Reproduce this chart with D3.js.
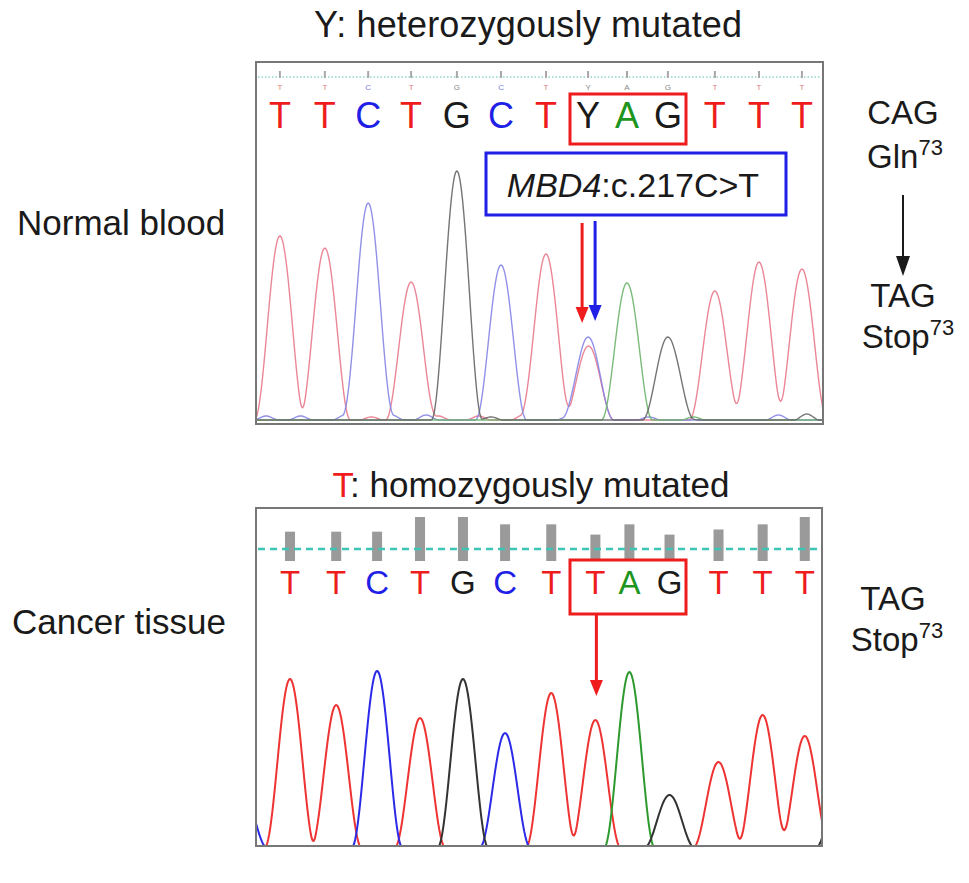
<!DOCTYPE html>
<html>
<head>
<meta charset="utf-8">
<script src="https://cdn.jsdelivr.net/npm/d3@7"></script>
<style>
  html, body { margin: 0; padding: 0; background: #fff; }
  svg { display: block; font-family: "Liberation Sans", Arial, Helvetica, sans-serif; }
</style>
</head>
<body>
<svg id="chart" width="969" height="883"></svg>
<script>
// ---------------- DATA ----------------
const topCalls = ["T","T","C","T","G","C","T","Y","A","G","T","T","T"];
const bottomCalls = ["T","T","C","T","G","C","T","T","A","G","T","T","T"];

// scan positions of base calls (arbitrary scan units)
const topScan = [5.9, 17.0, 27.7, 38.3, 49.6, 60.5, 71.6, 82.0, 91.6, 101.7, 113.3, 124.2, 134.8];
const bottomScan = [8.4, 19.8, 29.9, 40.5, 51.1, 61.5, 72.9, 83.8, 92.2, 102.1, 114.2, 125.1, 135.5];

// peak signal intensities (top: normal blood)
const topPeakBase = ["T","T","C","T","G","C","T","C","T","A","G","T","T","T"];
const topPeakScan = [5.9, 17.0, 27.7, 38.3, 49.6, 60.5, 71.6, 82.0, 82.1, 91.6, 101.7, 113.3, 124.2, 134.8];
const topPeakHeight = [184, 172, 217, 138, 249, 155, 166, 83, 74, 137, 83, 129, 158, 151];

// small background noise peaks (top)
const topNoiseBase = ["C","C","C","T","C","C","T","T","G","T","C","C","G","A","T","C","G"];
const topNoiseScan = [2.5, 11, 22, 28.5, 33.5, 42, 45, 55, 58, 66, 77, 97, 106, 108, 119, 129, 136];
const topNoiseHeight = [4, 4, 5, 3, 5, 5, 4, 4, 3, 5, 3, 3, 3, 3, 4, 5, 6];

// peak signal intensities (bottom: cancer tissue)
const bottomPeakBase = ["C","T","T","C","T","G","C","T","T","A","G","T","T","T","G"];
const bottomPeakScan = [-3.5, 8.4, 19.8, 29.9, 40.5, 51.1, 61.5, 72.9, 83.8, 92.2, 102.1, 114.2, 125.1, 135.5, 144.5];
const bottomPeakHeight = [60, 169, 143, 177, 130, 169, 115, 155, 128, 176, 53, 86, 133, 112, 70];

// quality values for bottom calls
const bottomQuality = [40, 40, 40, 60, 60, 50, 50, 36, 50, 36, 43, 50, 60];

const codonTop = ["CAG", "Gln", "TAG", "Stop"];
const codonBottom = ["TAG", "Stop"];
const aaPosition = "73";

// ---------------- DRAW ----------------
const svg = d3.select("#chart");
const baseColor = {T: "#ee1c1c", C: "#1f1fe6", G: "#1a1a1a", A: "#1e951e", Y: "#1a1a1a"};
const traceColorTop = {T: "#e8798c", C: "#8585e4", G: "#666666", A: "#6cb46c"};
const traceColorBottom = {T: "#ee3333", C: "#2a2ae8", G: "#333333", A: "#2e9a2e"};

const x = d3.scaleLinear().domain([0, 140]).range([256, 823]);
const halfWidth = 6.3;   // scan units, peak half base width
const noiseWidth = 3.2;

function shape(d, w) {
  const a = Math.abs(d);
  if (a >= w) return 0;
  const c = Math.cos(Math.PI * a / (2 * w));
  return c * c;
}
function trace(bases, scans, heights, noiseB, noiseS, noiseH, ch) {
  const pk = [];
  bases.forEach((b, i) => { if (b === ch) pk.push([scans[i], heights[i], halfWidth]); });
  if (noiseB) noiseB.forEach((b, i) => { if (b === ch) pk.push([noiseS[i], noiseH[i], noiseWidth]); });
  return d3.range(-2, 142.01, 0.25).map(s => {
    let v = 0;
    pk.forEach(([c, h, w]) => { v += h * shape(s - c, w); });
    return [s, v];
  });
}

// ---------- titles ----------
svg.append("text").attr("x", 528).attr("y", 37).attr("text-anchor", "middle")
  .attr("font-size", 36).attr("fill", "#1a1a1a").attr("textLength", 428).text("Y: heterozygously mutated");

const t2 = svg.append("text").attr("x", 531).attr("y", 497).attr("text-anchor", "middle")
  .attr("font-size", 35).attr("fill", "#1a1a1a");
t2.append("tspan").attr("fill", "#ee1c1c").text("T");
t2.append("tspan").text(": homozygously mutated");

svg.append("text").attr("x", 17).attr("y", 235).attr("font-size", 35).attr("fill", "#1a1a1a").text("Normal blood");
svg.append("text").attr("x", 12).attr("y", 634).attr("font-size", 35).attr("fill", "#1a1a1a").text("Cancer tissue");

// ---------- TOP PANEL ----------
const topPanel = {x0: 256, y0: 62, x1: 823, y1: 424};
svg.append("clipPath").attr("id", "clipTop").append("rect")
  .attr("x", topPanel.x0).attr("y", topPanel.y0).attr("width", topPanel.x1 - topPanel.x0).attr("height", topPanel.y1 - topPanel.y0);

const yTop = d3.scaleLinear().domain([0, 250]).range([420, 170]);
const lineTop = d3.line().x(d => x(d[0])).y(d => yTop(d[1]));
const gTop = svg.append("g").attr("clip-path", "url(#clipTop)");
["T", "C", "A", "G"].forEach(ch => {
  gTop.append("path").attr("d", lineTop(trace(topPeakBase, topPeakScan, topPeakHeight, topNoiseBase, topNoiseScan, topNoiseHeight, ch)))
    .attr("fill", "none").attr("stroke", traceColorTop[ch]).attr("stroke-width", 1.4).attr("opacity", 0.9);
});

// header dotted line
svg.append("line").attr("x1", topPanel.x0 + 2).attr("x2", topPanel.x1 - 2).attr("y1", 77).attr("y2", 77)
  .attr("stroke", "#8fd6cc").attr("stroke-width", 1.3).attr("stroke-dasharray", "1.5,2");
// tiny marks and tiny calls
topCalls.forEach((b, i) => {
  const cx = x(topScan[i]);
  svg.append("line").attr("x1", cx).attr("x2", cx).attr("y1", 71).attr("y2", 78)
    .attr("stroke", "#a8a8a8").attr("stroke-width", 2);
  svg.append("text").attr("x", cx).attr("y", 90).attr("text-anchor", "middle")
    .attr("font-size", 8).attr("fill", b === "T" ? "#e07a7a" : b === "C" ? "#7a7ae0" : "#888").text(b);
});
// base calls
topCalls.forEach((b, i) => {
  svg.append("text").attr("x", x(topScan[i])).attr("y", 128).attr("text-anchor", "middle")
    .attr("font-size", 36).attr("fill", baseColor[b]).text(b);
});
// red box around codon
svg.append("rect").attr("x", 570).attr("y", 94).attr("width", 116).attr("height", 50)
  .attr("fill", "none").attr("stroke", "#ee1c1c").attr("stroke-width", 3);
// blue label box
svg.append("rect").attr("x", 486).attr("y", 153).attr("width", 300).attr("height", 62)
  .attr("fill", "#fff").attr("stroke", "#1f1fe6").attr("stroke-width", 3);
const lab = svg.append("text").attr("x", 633).attr("y", 197).attr("text-anchor", "middle")
  .attr("font-size", 34).attr("fill", "#1a1a1a");
lab.append("tspan").attr("font-style", "italic").text("MBD4");
lab.append("tspan").text(":c.217C>T");

function arrow(g, xx, ya, yb, color, w, hw, hh) {
  g.append("line").attr("x1", xx).attr("x2", xx).attr("y1", ya).attr("y2", yb - hh + 2)
    .attr("stroke", color).attr("stroke-width", w);
  g.append("path").attr("d", `M${xx - hw},${yb - hh} L${xx + hw},${yb - hh} L${xx},${yb} Z`).attr("fill", color);
}
const ym = x(topScan[7]);
arrow(svg, ym - 6, 223, 323, "#ee1c1c", 3, 6.5, 16);
arrow(svg, ym + 7, 221, 321, "#1f1fe6", 3, 6.5, 16);

svg.append("rect").attr("x", topPanel.x0).attr("y", topPanel.y0)
  .attr("width", topPanel.x1 - topPanel.x0).attr("height", topPanel.y1 - topPanel.y0)
  .attr("fill", "none").attr("stroke", "#777").attr("stroke-width", 2);

// ---------- BOTTOM PANEL ----------
const botPanel = {x0: 256, y0: 508, x1: 822, y1: 846};
svg.append("clipPath").attr("id", "clipBot").append("rect")
  .attr("x", botPanel.x0).attr("y", botPanel.y0).attr("width", botPanel.x1 - botPanel.x0).attr("height", botPanel.y1 - botPanel.y0);
const yBot = d3.scaleLinear().domain([0, 180]).range([848, 668]);
const lineBot = d3.line().x(d => x(d[0])).y(d => yBot(d[1]));
const gBot = svg.append("g").attr("clip-path", "url(#clipBot)");
["T", "C", "A", "G"].forEach(ch => {
  gBot.append("path").attr("d", lineBot(trace(bottomPeakBase, bottomPeakScan, bottomPeakHeight, null, null, null, ch)))
    .attr("fill", "none").attr("stroke", traceColorBottom[ch]).attr("stroke-width", 2);
});

// quality bars
const q = d3.scaleLinear().domain([0, 60]).range([0, 44]);
bottomQuality.forEach((v, i) => {
  svg.append("rect").attr("x", x(bottomScan[i]) - 5).attr("y", 561 - q(v)).attr("width", 10).attr("height", q(v))
    .attr("fill", "#9a9a9a");
});
svg.append("line").attr("x1", botPanel.x0 + 2).attr("x2", botPanel.x1 - 2).attr("y1", 549).attr("y2", 549)
  .attr("stroke", "#3cc4b4").attr("stroke-width", 2.5).attr("stroke-dasharray", "7,5");

bottomCalls.forEach((b, i) => {
  svg.append("text").attr("x", x(bottomScan[i])).attr("y", 594).attr("text-anchor", "middle")
    .attr("font-size", 33).attr("fill", baseColor[b]).text(b);
});
svg.append("rect").attr("x", 570).attr("y", 560).attr("width", 116).attr("height", 54)
  .attr("fill", "none").attr("stroke", "#ee1c1c").attr("stroke-width", 3);
arrow(svg, x(bottomScan[7]) + 1, 614, 696, "#ee1c1c", 3, 6.5, 16);

svg.append("rect").attr("x", botPanel.x0).attr("y", botPanel.y0)
  .attr("width", botPanel.x1 - botPanel.x0).attr("height", botPanel.y1 - botPanel.y0)
  .attr("fill", "none").attr("stroke", "#777").attr("stroke-width", 2);

// ---------- right-side codon labels ----------
function codonLabel(cx, yb, txt, sup) {
  const t = svg.append("text").attr("x", cx).attr("y", yb).attr("text-anchor", "middle")
    .attr("font-size", 33).attr("fill", "#1a1a1a");
  t.append("tspan").text(txt);
  if (sup) t.append("tspan").attr("font-size", 22).attr("dy", -13).text(sup);
}
codonLabel(903, 124, codonTop[0]);
codonLabel(905, 168, codonTop[1], aaPosition);
svg.append("line").attr("x1", 903).attr("x2", 903).attr("y1", 195).attr("y2", 265).attr("stroke", "#1a1a1a").attr("stroke-width", 2);
svg.append("path").attr("d", "M896,256 L910,256 L903,276 Z").attr("fill", "#1a1a1a");
codonLabel(903, 307, codonTop[2]);
codonLabel(908, 348, codonTop[3], aaPosition);

codonLabel(893, 610, codonBottom[0]);
codonLabel(897, 651, codonBottom[1], aaPosition);
</script>
</body>
</html>
